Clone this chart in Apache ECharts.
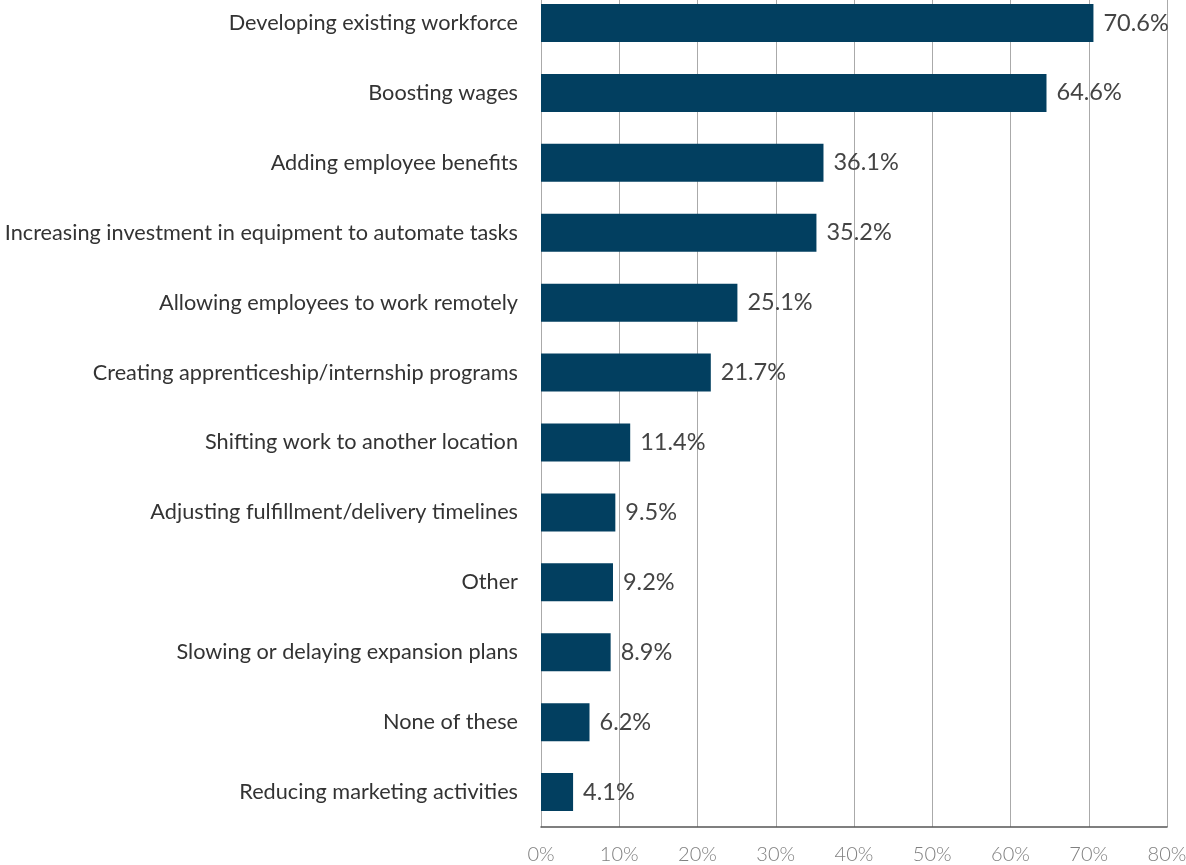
<!DOCTYPE html>
<html>
<head>
<meta charset="utf-8">
<script src="https://cdn.jsdelivr.net/npm/echarts@6/dist/echarts.min.js"></script>
<style>html,body{margin:0;padding:0;background:#fff}#c{width:1186px;height:865px}</style>
</head>
<body>
<div id="c"></div>
<script>
var categories = [
  "Developing existing workforce",
  "Boosting wages",
  "Adding employee benefits",
  "Increasing investment in equipment to automate tasks",
  "Allowing employees to work remotely",
  "Creating apprenticeship/internship programs",
  "Shifting work to another location",
  "Adjusting fulfillment/delivery timelines",
  "Other",
  "Slowing or delaying expansion plans",
  "None of these",
  "Reducing marketing activities"
];
var values = [70.6, 64.6, 36.1, 35.2, 25.1, 21.7, 11.4, 9.5, 9.2, 8.9, 6.2, 4.1];
var xTicks = [0, 10, 20, 30, 40, 50, 60, 70, 80];

var chart = echarts.init(document.getElementById('c'));
chart.setOption({
  animation: false,
  grid: { left: 541, right: 19, top: -12, bottom: 38, containLabel: false, outerBoundsMode: 'none' },
  xAxis: {
    type: 'value', min: xTicks[0], max: xTicks[xTicks.length - 1], interval: 10,
    axisLine: { show: true, lineStyle: { color: '#555', width: 1.5 } },
    axisTick: { show: false },
    splitLine: { show: true, lineStyle: { color: '#aaa', width: 1 } },
    axisLabel: { formatter: '{value}%', color: '#808080', fontSize: 20, fontFamily: 'Lato', fontWeight: 300, margin: 18 }
  },
  yAxis: {
    type: 'category', data: categories, inverse: true,
    axisLine: { show: true, lineStyle: { color: '#aaa' } },
    axisTick: { show: false },
    axisLabel: { color: '#333', fontSize: 21.7, fontFamily: 'Lato', margin: 23 }
  },
  series: [{
    type: 'bar', data: values, barWidth: 38,
    itemStyle: { color: '#023f60' },
    label: { show: true, position: 'right', distance: 10, formatter: '{c}%', color: '#444', fontSize: 23.5, fontFamily: 'Lato' }
  }]
});
</script>
</body>
</html>
